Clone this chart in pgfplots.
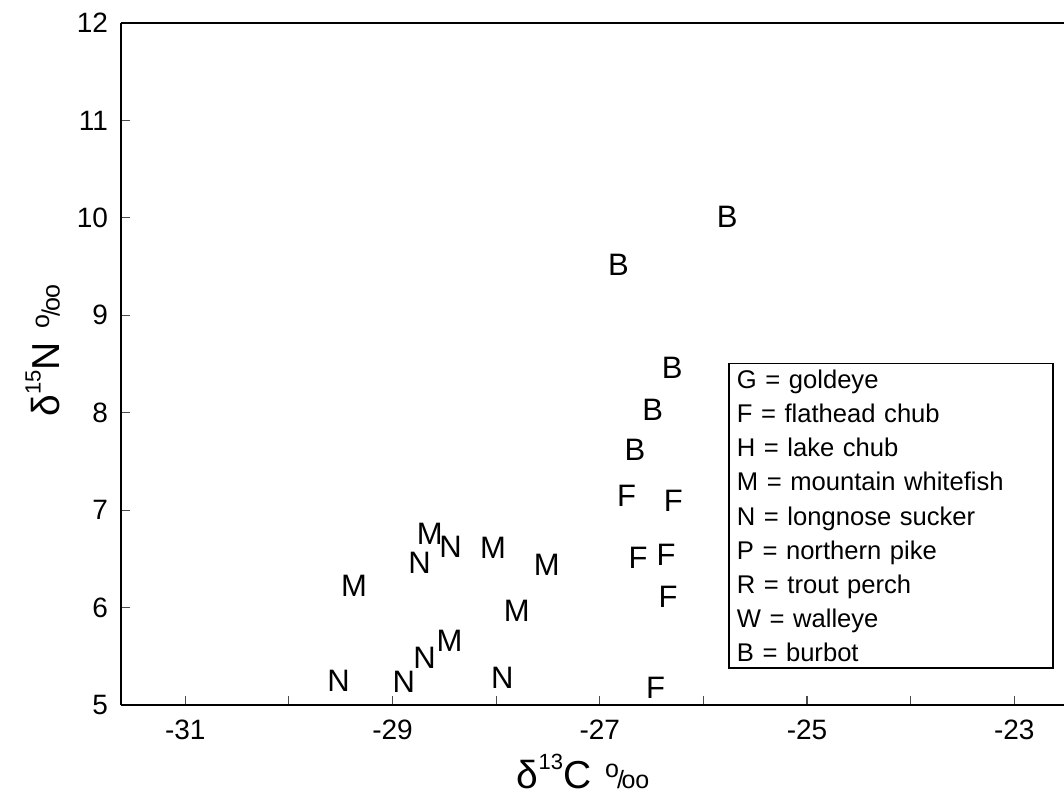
\documentclass[border=0pt]{standalone}
\usepackage{fontspec}
\setmainfont{Liberation Sans}
\usepackage{pgfplots}
\pgfplotsset{compat=1.18}

% per mil sign drawn as in the original: small raised o, slash, oo
\newcommand{\permil}{{\fontsize{12.5}{12}\selectfont\raisebox{0.8ex}{o}\kern-0.08em/\kern-0.1em oo}}
\newcommand{\isosup}[1]{\raisebox{9.5pt}{\fontsize{11}{11}\selectfont #1}}

\begin{document}
\begin{tikzpicture}
\begin{axis}[
  scale only axis,
  width=471.5pt,
  height=341pt,
  xmin=-31.62, xmax=-22.52,
  ymin=5, ymax=12,
  axis x line=box,
  axis y line=left,
  axis line style={-, line width=0.9pt},
  tick align=inside,
  xtick pos=bottom,
  ytick pos=left,
  major tick length=4.5pt,
  tick style={line width=0.6pt, black!70},
  xtick={-31,-30,...,-23},
  xticklabels={-31,,-29,,-27,,-25,,-23},
  ytick={5,6,...,12},
  /pgf/number format/assume math mode=true,
  tick label style={font=\fontsize{14}{14}\selectfont},
  yticklabel style={xshift=-3pt},
  xticklabel style={yshift=-4pt},
  xlabel={δ\isosup{13}C\hspace{7pt}\permil},
  ylabel={δ\isosup{15}N\hspace{7pt}\permil},
  label style={font=\fontsize{19.5}{20}\selectfont},
  x label style={at={(axis description cs:0.49,-0.097)}, anchor=center},
  y label style={at={(axis description cs:-0.083,0.52)}, anchor=center},
  clip=false,
  every axis plot/.append style={only marks, mark=text, text mark as node=true,
    text mark style={font=\fontsize{15.5}{15.5}\selectfont}},
]
% burbot
\addplot[text mark={B}] coordinates {
  (-25.77,10.01) (-26.82,9.52) (-26.30,8.46) (-26.49,8.03) (-26.66,7.62)};
% flathead chub
\addplot[text mark={F}] coordinates {
  (-26.74,7.15) (-26.29,7.10) (-26.63,6.51) (-26.36,6.54) (-26.34,6.11) (-26.46,5.18)};
% mountain whitefish
\addplot[text mark={M}] coordinates {
  (-29.37,6.22) (-28.64,6.76) (-28.03,6.61) (-27.51,6.44) (-27.80,5.97) (-28.45,5.66)};
% longnose sucker
\addplot[text mark={N}] coordinates {
  (-28.44,6.62) (-28.74,6.46) (-28.69,5.48) (-28.89,5.24) (-29.52,5.25) (-27.94,5.28)};

\node[draw, line width=0.7pt, anchor=north west, inner xsep=4pt, inner ysep=3pt,
  text width=154pt, align=left, font=\fontsize{12.8}{17.1}\selectfont]
  at (axis cs:-25.76,8.51) {%
  G = goldeye\\
  F = flathead chub\\
  H = lake chub\\
  M = mountain whitefish\\
  N = longnose sucker\\
  P = northern pike\\
  R = trout perch\\
  W = walleye\\
  B = burbot};
\end{axis}
\pgfresetboundingbox
\path[use as bounding box] (-60.5pt,-52pt) rectangle (471.5pt,352.5pt);
\end{tikzpicture}
\end{document}
